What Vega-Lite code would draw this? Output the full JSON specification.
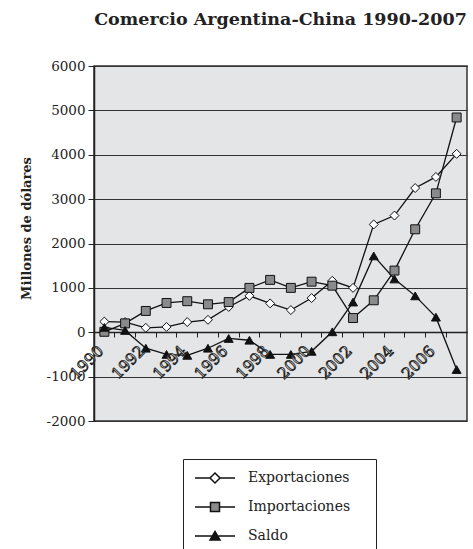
{
  "$schema": "https://vega.github.io/schema/vega-lite/v6.json",
  "width": 373,
  "height": 355,
  "autosize": {"type": "none"},
  "padding": {"left": 94, "top": 66, "right": 6, "bottom": 128},
  "background": "white",
  "title": {"text": "Comercio Argentina-China 1990-2007", "font": "DejaVu Serif", "fontSize": 17.5, "fontWeight": "bold", "color": "#222", "anchor": "middle", "offset": 31},
  "config": {
    "view": {"fill": "#e4e5e7", "stroke": "#333", "strokeWidth": 1.5},
    "axis": {"labelFont": "DejaVu Serif", "titleFont": "DejaVu Serif", "labelColor": "#222", "titleColor": "#222", "domainColor": "#222", "tickColor": "#222"},
    "legend": {"orient": "none", "legendX": 89, "legendY": 393, "strokeColor": "#222", "fillColor": "white", "padding": 8, "symbolSize": 400, "symbolOffset": 13, "labelOffset": 22, "rowPadding": 10, "labelFont": "DejaVu Serif", "labelFontSize": 14, "labelColor": "#222", "symbolOpacity": 1}
  },
  "data": {"values": [
    {"year": 1990, "series": "Exportaciones", "value": 240},
    {"year": 1991, "series": "Exportaciones", "value": 230},
    {"year": 1992, "series": "Exportaciones", "value": 100},
    {"year": 1993, "series": "Exportaciones", "value": 120},
    {"year": 1994, "series": "Exportaciones", "value": 230},
    {"year": 1995, "series": "Exportaciones", "value": 280},
    {"year": 1996, "series": "Exportaciones", "value": 570},
    {"year": 1997, "series": "Exportaciones", "value": 820},
    {"year": 1998, "series": "Exportaciones", "value": 650},
    {"year": 1999, "series": "Exportaciones", "value": 500},
    {"year": 2000, "series": "Exportaciones", "value": 770},
    {"year": 2001, "series": "Exportaciones", "value": 1160},
    {"year": 2002, "series": "Exportaciones", "value": 1000},
    {"year": 2003, "series": "Exportaciones", "value": 2430},
    {"year": 2004, "series": "Exportaciones", "value": 2630},
    {"year": 2005, "series": "Exportaciones", "value": 3250},
    {"year": 2006, "series": "Exportaciones", "value": 3500},
    {"year": 2007, "series": "Exportaciones", "value": 4020},
    {"year": 1990, "series": "Importaciones", "value": 10},
    {"year": 1991, "series": "Importaciones", "value": 200},
    {"year": 1992, "series": "Importaciones", "value": 480},
    {"year": 1993, "series": "Importaciones", "value": 660},
    {"year": 1994, "series": "Importaciones", "value": 700},
    {"year": 1995, "series": "Importaciones", "value": 630},
    {"year": 1996, "series": "Importaciones", "value": 680},
    {"year": 1997, "series": "Importaciones", "value": 1000},
    {"year": 1998, "series": "Importaciones", "value": 1180},
    {"year": 1999, "series": "Importaciones", "value": 1000},
    {"year": 2000, "series": "Importaciones", "value": 1140},
    {"year": 2001, "series": "Importaciones", "value": 1050},
    {"year": 2002, "series": "Importaciones", "value": 320},
    {"year": 2003, "series": "Importaciones", "value": 720},
    {"year": 2004, "series": "Importaciones", "value": 1390},
    {"year": 2005, "series": "Importaciones", "value": 2320},
    {"year": 2006, "series": "Importaciones", "value": 3130},
    {"year": 2007, "series": "Importaciones", "value": 4840},
    {"year": 1990, "series": "Saldo", "value": 110},
    {"year": 1991, "series": "Saldo", "value": 40},
    {"year": 1992, "series": "Saldo", "value": -360},
    {"year": 1993, "series": "Saldo", "value": -500},
    {"year": 1994, "series": "Saldo", "value": -520},
    {"year": 1995, "series": "Saldo", "value": -360},
    {"year": 1996, "series": "Saldo", "value": -140},
    {"year": 1997, "series": "Saldo", "value": -180},
    {"year": 1998, "series": "Saldo", "value": -500},
    {"year": 1999, "series": "Saldo", "value": -500},
    {"year": 2000, "series": "Saldo", "value": -430},
    {"year": 2001, "series": "Saldo", "value": 10},
    {"year": 2002, "series": "Saldo", "value": 680},
    {"year": 2003, "series": "Saldo", "value": 1720},
    {"year": 2004, "series": "Saldo", "value": 1200},
    {"year": 2005, "series": "Saldo", "value": 820},
    {"year": 2006, "series": "Saldo", "value": 340},
    {"year": 2007, "series": "Saldo", "value": -840}
  ]},
  "encoding": {
    "x": {"field": "year", "type": "ordinal", "scale": {"type": "band", "paddingInner": 0, "paddingOuter": 0},
      "axis": {"title": null, "labels": false, "offset": -89, "bandPosition": 0, "tickSize": 5, "domainWidth": 1.5, "grid": false}}
  },
  "layer": [
    {
      "mark": {"type": "line", "stroke": "#111", "strokeWidth": 1.3},
      "encoding": {
        "y": {"field": "value", "type": "quantitative", "scale": {"domain": [-2000, 6000], "nice": false},
          "axis": {"title": "Millones de dólares", "titleFontSize": 13, "titleFontWeight": "bold", "titlePadding": 13, "titleY": 162, "values": [-2000, -1000, 0, 1000, 2000, 3000, 4000, 5000, 6000], "labelExpr": "'' + datum.value", "labelFontSize": 13.5, "tickSize": 6, "labelPadding": 3, "domainWidth": 1.5, "grid": true, "gridColor": "#333", "gridWidth": 1}},
        "detail": {"field": "series", "type": "nominal"}
      }
    },
    {
      "mark": {"type": "point", "filled": true, "stroke": "#111", "strokeWidth": 1, "size": 80, "opacity": 1},
      "encoding": {
        "y": {"field": "value", "type": "quantitative"},
        "shape": {"field": "series", "type": "nominal", "scale": {"domain": ["Exportaciones", "Importaciones", "Saldo"], "range": ["diamond", "square", "triangle-up"]}, "legend": null},
        "fill": {"field": "series", "type": "nominal", "scale": {"domain": ["Exportaciones", "Importaciones", "Saldo"], "range": ["white", "#8a8a8a", "#111"]}, "legend": null}
      }
    },
    {
      "transform": [{"filter": "datum.series == 'Exportaciones' && datum.year % 2 == 0"}],
      "mark": {"type": "text", "align": "right", "baseline": "middle", "dx": -14, "dy": 9, "font": "DejaVu Serif", "fontSize": 15.5, "fill": "white", "stroke": "#222", "strokeWidth": 0.9},
      "encoding": {
        "y": {"datum": 0, "type": "quantitative"},
        "angle": {"value": 315},
        "text": {"field": "year", "type": "nominal"}
      }
    },
    {
      "mark": {"type": "point", "filled": true, "stroke": "#111", "strokeWidth": 1.2, "opacity": 0},
      "encoding": {
        "y": {"field": "value", "type": "quantitative"},
        "shape": {"field": "series", "type": "nominal",
          "scale": {"domain": ["Exportaciones", "Importaciones", "Saldo"], "range": [
            "M-2,0H-0.5M0.5,0H2M0,-0.5L0.5,0L0,0.5L-0.5,0Z",
            "M-2,0H-0.45M0.45,0H2M-0.45,-0.45H0.45V0.45H-0.45Z",
            "M-2,0H2M0,-0.45L0.5,0.4H-0.5Z"]},
          "legend": {"title": "\u2003", "titleOrient": "right", "titlePadding": 18, "titleFontSize": 4, "encode": {"symbols": {"update": {"stroke": {"value": "#111"}, "strokeWidth": {"value": 1.2}, "opacity": {"value": 1}}}}}},
        "fill": {"field": "series", "type": "nominal", "scale": {"domain": ["Exportaciones", "Importaciones", "Saldo"], "range": ["white", "#8a8a8a", "#111"]}}
      }
    }
  ],
  "resolve": {"scale": {"shape": "independent", "fill": "independent"}}
}
